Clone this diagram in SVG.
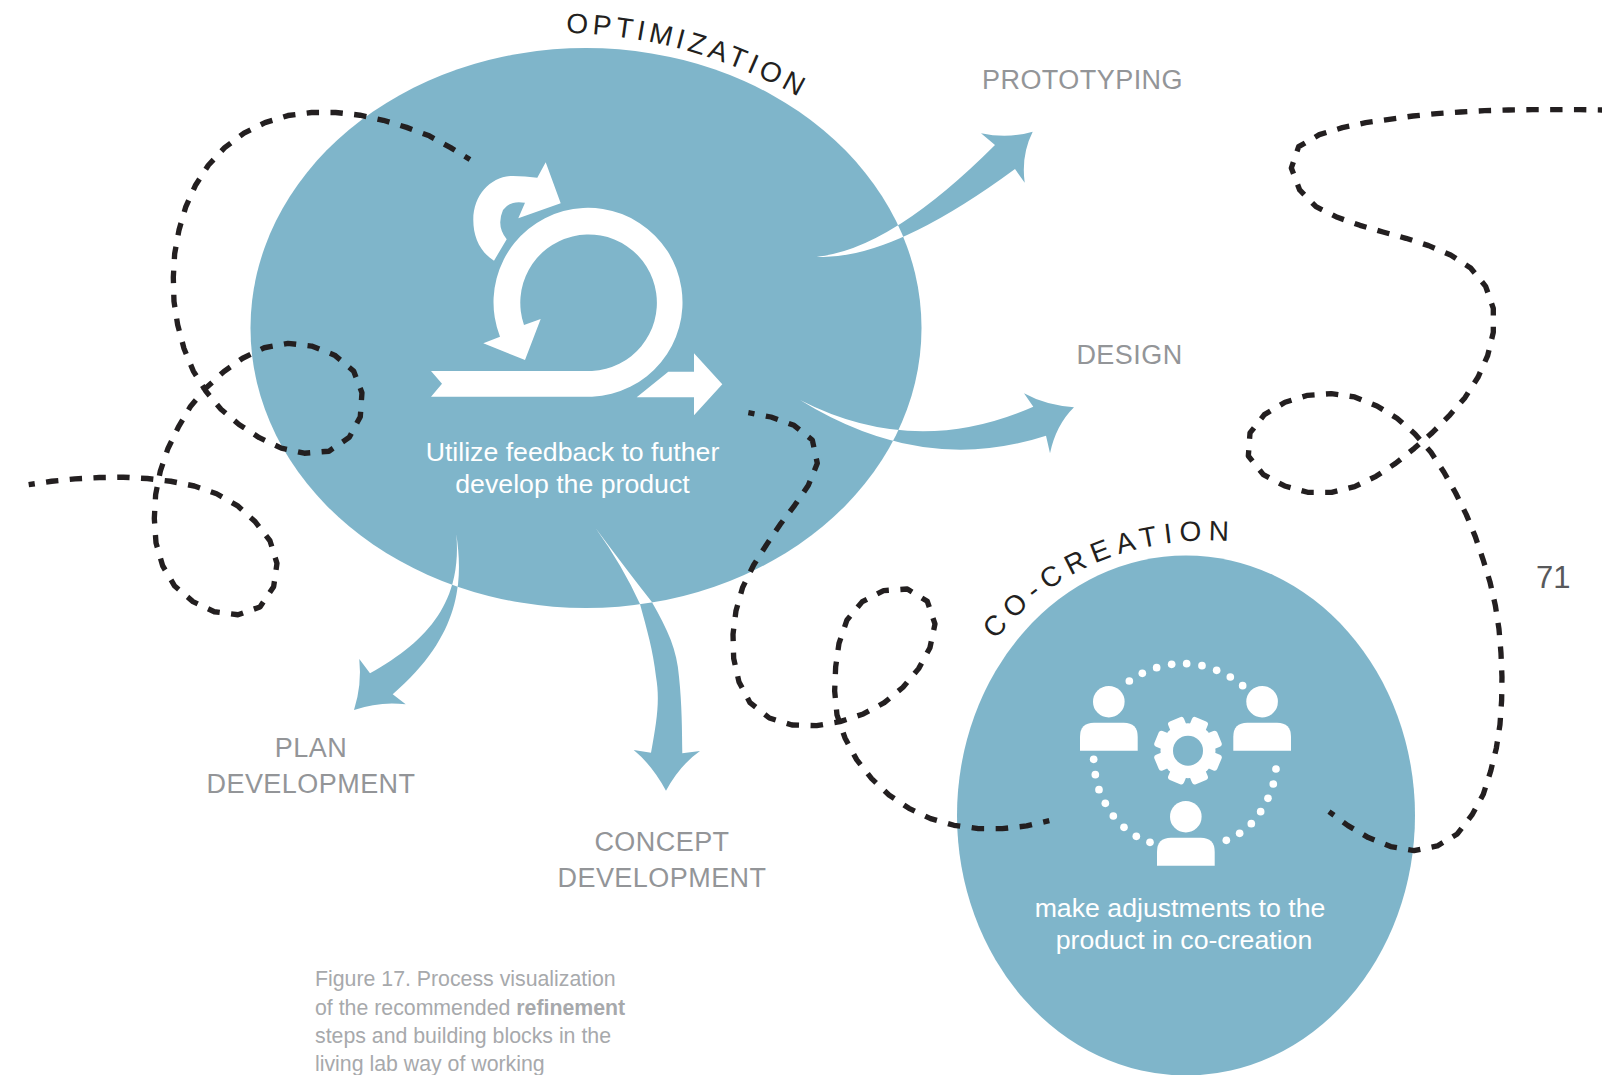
<svg xmlns="http://www.w3.org/2000/svg" xmlns:xlink="http://www.w3.org/1999/xlink" width="1602" height="1075" viewBox="0 0 1602 1075">
<style>
text{font-family:"Liberation Sans",Arial,sans-serif}
.blue{fill:#7fb5ca}
.wh{fill:#fff}
.lab{font-size:27px;fill:#939598;letter-spacing:.45px;text-anchor:middle}
.in{font-size:26.7px;fill:#fff;text-anchor:middle}
.cur{font-size:28px;fill:#231f20}
.cap{font-size:21.3px;fill:#a7a9ac}
.dash{fill:none;stroke:#231f20;stroke-width:16;stroke-dasharray:.52 .48;stroke-dashoffset:.26;stroke-linejoin:round}
</style>
<defs>
<clipPath id="inBig"><ellipse cx="586" cy="328" rx="335.5" ry="280"/></clipPath>
<path id="arrProto" d="M816.7,256.7Q890,250 995,145L981,133.3Q1008,139 1032.7,131.7Q1021,155 1024.7,182.7L1015,169Q890,261 816.7,256.7Z"/>
<path id="arrDesign" d="M800,400Q915,459 1033.3,406.7L1024,393.3Q1045,405 1074,407.3Q1056,425 1050,453.3L1046,435.7Q923,476 800,400Z"/>
<path id="arrPlan" d="M456.3,534C463,580 462,635 392.7,694.3L405.7,704.3Q380,701 354,710Q362,685 359.3,659L370,673.3C430,640 462,600 456.3,534Z"/>
<path id="arrConcept" d="M595.7,528.3Q632,577 651.7,601.7C668,630 677,650 679,676.7C682,705 682,730 682.3,753.3L700,751Q680,765 666,790.7Q652,765 633.7,750L651,752.7C657,720 660,700 656,676.7C653,650 647,630 640,604Q622,565 595.7,528.3Z"/>
<path id="curveOpt" d="M566,33Q690,35 804,100"/>
<path id="curveCo" d="M995,640Q1085,533 1232,541"/>
<g id="person" class="wh"><circle cx="28.8" cy="-21" r="15.8"/><path d="M0,28V14Q0,0 14,0H43.7Q57.7,0 57.7,14V28Z"/></g>
<rect id="tooth" x="-8.5" y="-34" width="17" height="14" rx="3" class="wh"/>
</defs>

<g id="node-optimization">
<ellipse class="blue" cx="586" cy="328" rx="335.5" ry="280"/>
<text class="cur" style="letter-spacing:4.2px"><textPath href="#curveOpt" xlink:href="#curveOpt">OPTIMIZATION</textPath></text>
<g class="wh">
<path d="M431,371L592,371A68.3,68.3 0 1 0 524,325L540.7,319L525,360L483.3,343.3L500,336.7A94.5,94.5 0 1 1 592,396.7L431,396.7L442,383.7Z"/>
<path d="M494,260.7C480,252 473.3,237 473.3,220C473.3,194 492,176 513,176Q525,176 537.3,177.7L545.7,162.3L560.7,203.3L518.3,218.3L525,202.7Q510,200 503,210Q496,226 506.7,239.3Z"/>
<path d="M636.7,397.3L668.3,371.7L694,371.7L694,353.3L722.3,384.3L694,415.3L694,397.3Z"/>
</g>
<text class="in" x="572.5" y="461">Utilize feedback to futher</text>
<text class="in" x="572.5" y="493">develop the product</text>
</g>

<g id="node-cocreation">
<ellipse class="blue" cx="1186" cy="815.5" rx="229" ry="260"/>
<text class="cur" style="letter-spacing:7px"><textPath href="#curveCo" xlink:href="#curveCo">CO-CREATION</textPath></text>
<use href="#person" xlink:href="#person" x="1080" y="722.7"/>
<use href="#person" xlink:href="#person" x="1233.3" y="722.7"/>
<use href="#person" xlink:href="#person" x="1157" y="837.7"/>
<g id="gear" transform="translate(1188 750.7)">
<circle class="wh" r="27.5"/>
<use href="#tooth" xlink:href="#tooth" transform="rotate(22.5)"/>
<use href="#tooth" xlink:href="#tooth" transform="rotate(67.5)"/>
<use href="#tooth" xlink:href="#tooth" transform="rotate(112.5)"/>
<use href="#tooth" xlink:href="#tooth" transform="rotate(157.5)"/>
<use href="#tooth" xlink:href="#tooth" transform="rotate(202.5)"/>
<use href="#tooth" xlink:href="#tooth" transform="rotate(247.5)"/>
<use href="#tooth" xlink:href="#tooth" transform="rotate(292.5)"/>
<use href="#tooth" xlink:href="#tooth" transform="rotate(337.5)"/>
<circle class="blue" r="15"/>
</g>
<g id="dots" class="wh" transform="translate(1050 640) scale(.3333)">
<circle cx="238" cy="123" r="11.5"/><circle cx="277" cy="100" r="11.5"/><circle cx="320" cy="83" r="11.5"/><circle cx="365" cy="73" r="11.5"/><circle cx="410" cy="71" r="11.5"/><circle cx="456" cy="77" r="11.5"/><circle cx="500" cy="91" r="11.5"/><circle cx="541" cy="111" r="11.5"/><circle cx="578" cy="137" r="11.5"/>
<circle cx="131" cy="358" r="11.5"/><circle cx="136" cy="404" r="11.5"/><circle cx="147" cy="449" r="11.5"/><circle cx="166" cy="490" r="11.5"/><circle cx="190" cy="528" r="11.5"/><circle cx="222" cy="562" r="11.5"/><circle cx="259" cy="589" r="11.5"/><circle cx="300" cy="607" r="11.5"/>
<circle cx="529" cy="601" r="11.5"/><circle cx="569" cy="580" r="11.5"/><circle cx="604" cy="551" r="11.5"/><circle cx="632" cy="515" r="11.5"/><circle cx="654" cy="475" r="11.5"/><circle cx="670" cy="432" r="11.5"/><circle cx="678" cy="387" r="11.5"/>
</g>
<text class="in" x="1180" y="916.5">make adjustments to the</text>
<text class="in" x="1184" y="949">product in co-creation</text>
</g>

<g id="node-prototyping"><text class="lab" x="1082.5" y="88.5">PROTOTYPING</text></g>
<g id="node-design"><text class="lab" x="1129.5" y="363.5">DESIGN</text></g>
<g id="node-plan"><text class="lab" x="311" y="756.5">PLAN</text><text class="lab" x="311" y="792.5">DEVELOPMENT</text></g>
<g id="node-concept"><text class="lab" x="662" y="850.5">CONCEPT</text><text class="lab" x="662" y="886.5">DEVELOPMENT</text></g>
<g id="page-number"><text x="1536" y="588" style="font-size:31px;fill:#58595b">71</text></g>
<g id="caption" class="cap">
<text x="315" y="986">Figure 17. Process visualization</text>
<text x="315" y="1014.5">of the recommended <tspan font-weight="bold">refinement</tspan></text>
<text x="315" y="1043">steps and building blocks in the</text>
<text x="315" y="1071">living lab way of working</text>
</g>

<g id="connectors">
<g class="blue">
<use href="#arrProto" xlink:href="#arrProto"/>
<use href="#arrDesign" xlink:href="#arrDesign"/>
<use href="#arrPlan" xlink:href="#arrPlan"/>
<use href="#arrConcept" xlink:href="#arrConcept"/>
</g>
<g class="wh" clip-path="url(#inBig)">
<use href="#arrProto" xlink:href="#arrProto"/>
<use href="#arrDesign" xlink:href="#arrDesign"/>
<use href="#arrPlan" xlink:href="#arrPlan"/>
<use href="#arrConcept" xlink:href="#arrConcept"/>
</g>
<path class="dash" pathLength="66" transform="translate(20 100) scale(.3333 .338)" d="M26,1138L95,1128 165,1121 238,1117 310,1116 382,1120 452,1128 523,1142 590,1165 652,1200 706,1248 750,1304 771,1371 761,1440 720,1500 654,1523 583,1514 519,1484 464,1438 428,1378 408,1310 403,1238 407,1167 421,1098 444,1031 475,968 512,906 557,853 612,803 668,764 733,733 804,720 875,728 944,755 1001,802 1026,866 1021,937 988,998 927,1039 853,1045 784,1030 718,999 657,960 603,915 558,862 520,802 492,735 473,665 462,596 460,525 464,455 477,385 497,317 526,253 565,193 614,141 672,98 735,67 804,46 875,37 947,37 1020,45 1090,60 1160,81 1228,106 1292,141 1350,176"/>
<path class="dash" pathLength="45" transform="translate(720 400) scale(.3333)" d="M85,38L153,51 222,76 277,120 292,190 265,256 224,316 180,374 139,435 101,495 68,562 48,632 39,703 41,775 57,846 90,908 148,954 216,975 290,977 360,965 430,942 493,908 549,862 596,806 630,743 645,672 622,604 562,567 491,572 427,605 381,660 357,730 347,801 344,873 351,945 375,1014 410,1079 455,1136 507,1185 567,1225 632,1256 702,1276 775,1286 847,1286 920,1278 988,1262"/>
<path class="dash" pathLength="73" transform="translate(1230 90) scale(.3333)" d="M297,2165L354,2207 415,2243 482,2270 552,2282 622,2268 682,2232 726,2175 760,2113 782,2044 799,1975 810,1904 815,1831 816,1761 813,1689 807,1617 796,1546 780,1476 759,1408 736,1340 709,1274 677,1209 642,1147 603,1087 555,1032 501,985 441,948 374,921 304,911 233,916 165,937 103,974 60,1029 55,1098 100,1154 164,1188 233,1207 305,1207 374,1190 438,1159 497,1120 553,1075 607,1028 657,978 705,923 744,862 773,797 790,727 790,655 767,589 722,534 662,495 596,467 528,445 459,426 390,406 322,382 258,350 209,300 184,234 206,170 268,134 337,113 407,98 478,88 549,78 620,71 692,66 764,62 835,60 907,59 978,59 1050,59 1122,60"/>
</g>
</svg>
